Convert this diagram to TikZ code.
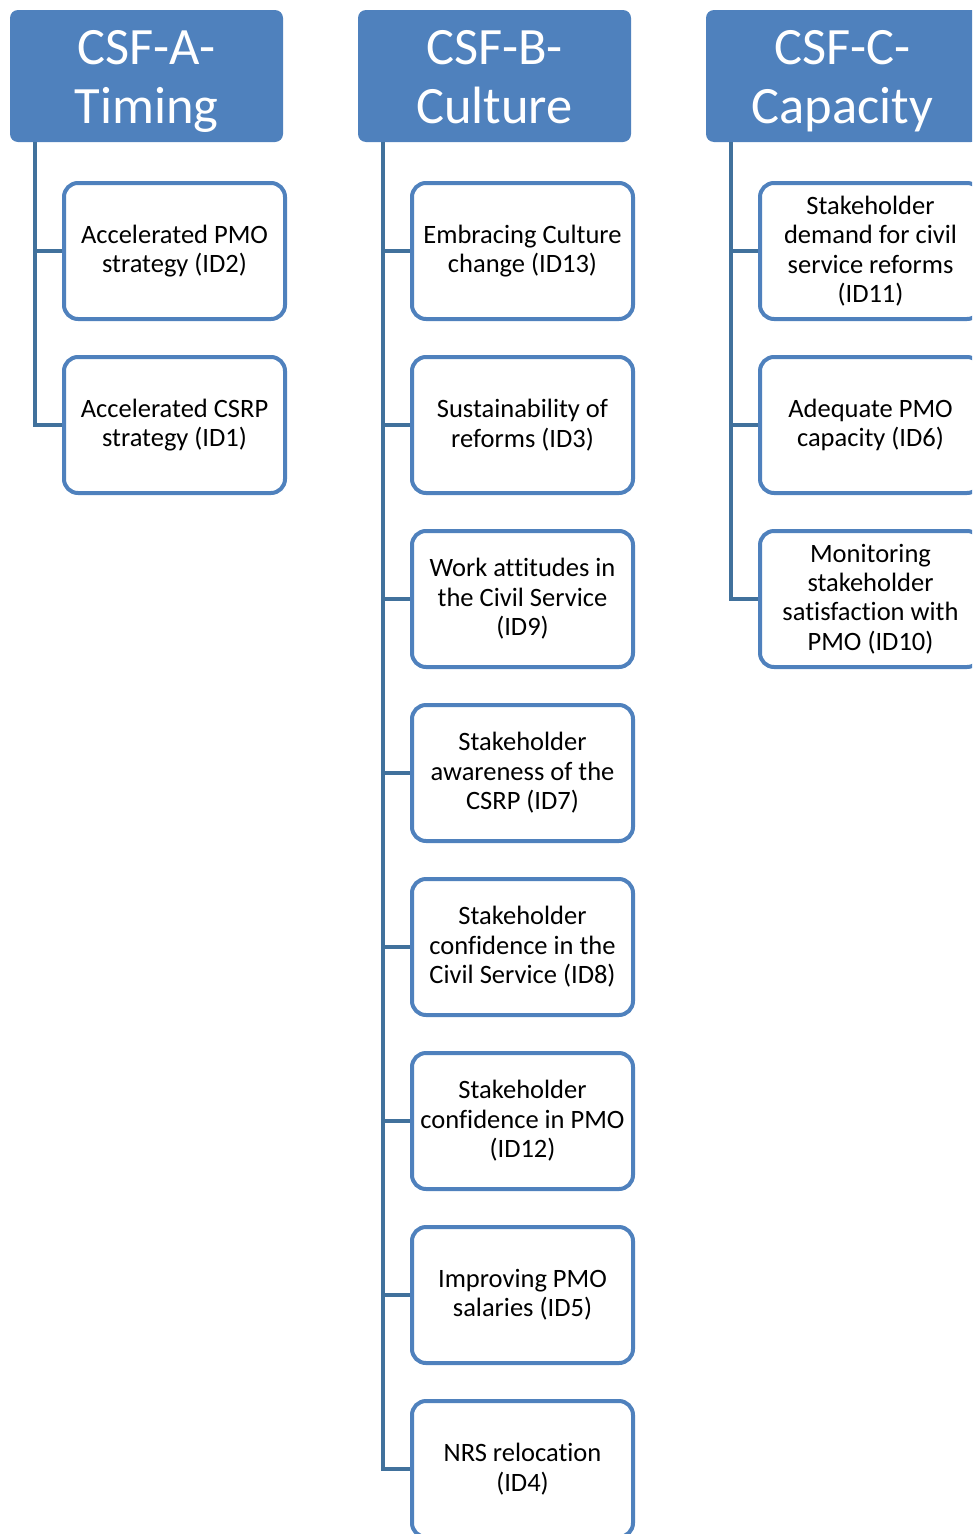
\documentclass[tikz,border=0pt]{standalone}
\usepackage{fontspec}
\setmainfont[Ligatures=CommonOff]{Carlito}
\definecolor{hdr}{HTML}{4F81BD}
\definecolor{bdr}{HTML}{4F81BD}
\definecolor{cnx}{HTML}{41719C}
\begin{document}
\begin{tikzpicture}[x=1pt,y=-1pt,
  header/.style={fill=hdr,draw=none,rounded corners=8pt,minimum width=273pt,minimum height=132pt,inner sep=0pt},
  htext/.style={text=white,font=\fontsize{52.5}{59}\selectfont,align=center,inner sep=0pt},
  item/.style={draw=bdr,line width=4pt,fill=white,rounded corners=14pt,minimum width=221pt,minimum height=136pt,
    font=\fontsize{26.5}{29.4}\selectfont,align=center,inner sep=0pt},
  link/.style={draw=cnx,line width=4pt}]
\useasboundingbox (0,0) rectangle (972,1534);
\clip (0,0) rectangle (972,1534);
% headers
\node[header] (hA) at (146.5,76) {};
\node[header] (hB) at (494.5,76) {};
\node[header] (hC) at (842.5,76) {};
\node[htext] (hAt) at (146.5,82) {\strut CSF-A-\\\strut Timing};
\node[htext] (hBt) at (494.5,82) {\strut CSF-B-\\\strut Culture};
\node[htext] (hCt) at (842.5,82) {\strut CSF-C-\\\strut Capacity};
\coordinate (tA) at (35,142);
\coordinate (tB) at (383,142);
\coordinate (tC) at (731,142);
% column A
\node[item] (a1) at (174.5,251) {Accelerated PMO\\strategy (ID2)};
\node[item] (a2) at (174.5,425) {Accelerated CSRP\\strategy (ID1)};
% column B
\node[item] (b1) at (522.5,251) {Embracing Culture\\change (ID13)};
\node[item] (b2) at (522.5,425) {Sustainability of\\reforms (ID3)};
\node[item] (b3) at (522.5,599) {Work attitudes in\\the Civil Service\\(ID9)};
\node[item] (b4) at (522.5,773) {Stakeholder\\awareness of the\\CSRP (ID7)};
\node[item] (b5) at (522.5,947) {Stakeholder\\confidence in the\\Civil Service (ID8)};
\node[item] (b6) at (522.5,1121) {Stakeholder\\confidence in PMO\\(ID12)};
\node[item] (b7) at (522.5,1295) {Improving PMO\\salaries (ID5)};
\node[item] (b8) at (522.5,1469) {NRS relocation\\(ID4)};
% column C
\node[item] (c1) at (870.5,251) {Stakeholder\\demand for civil\\service reforms\\(ID11)};
\node[item] (c2) at (870.5,425) {Adequate PMO\\capacity (ID6)};
\node[item] (c3) at (870.5,599) {Monitoring\\stakeholder\\satisfaction with\\PMO (ID10)};
% connectors
\foreach \n in {a1,a2} \draw[link] (tA) |- (\n.west);
\foreach \n in {b1,b2,b3,b4,b5,b6,b7,b8} \draw[link] (tB) |- (\n.west);
\foreach \n in {c1,c2,c3} \draw[link] (tC) |- (\n.west);
\end{tikzpicture}
\end{document}
